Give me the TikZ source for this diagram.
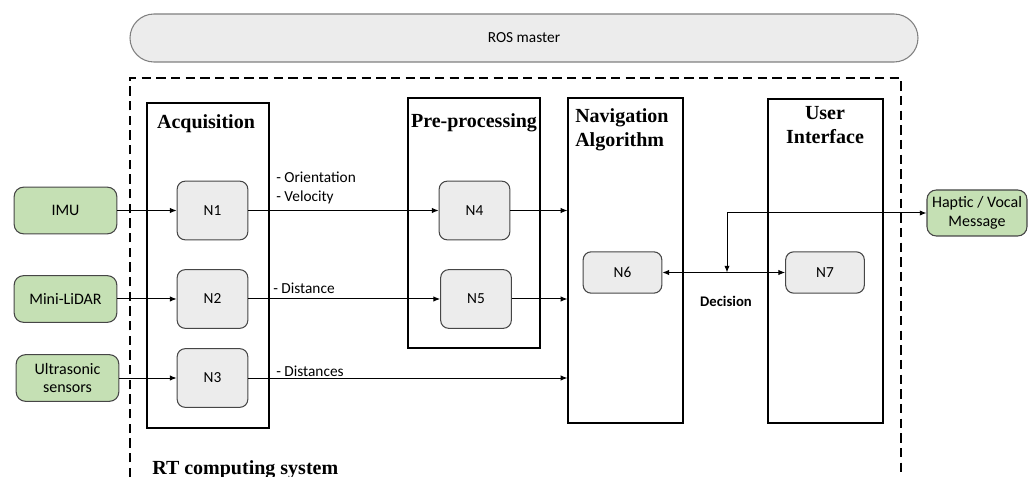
\documentclass[tikz,border=0pt]{standalone}
\usepackage{fontspec}
\setmainfont{Carlito}
\newfontfamily\titlefont{Liberation Serif}
\usetikzlibrary{positioning,arrows.meta,calc}
\definecolor{sensgreen}{RGB}{197,224,180}
\definecolor{nodegray}{RGB}{236,236,236}
\definecolor{edgegray}{RGB}{70,70,70}

\begin{document}
\begin{tikzpicture}[x=0.75pt,y=-0.75pt,
      sensor/.style={draw=edgegray,fill=sensgreen,rounded corners=7pt,line width=0.8pt,
        minimum width=77pt,minimum height=35pt,align=center,inner sep=1pt,
        font=\fontsize{12}{14}\selectfont},
      proc/.style={draw=edgegray,fill=nodegray,rounded corners=6pt,line width=0.8pt,
        minimum width=53pt,minimum height=44pt,font=\fontsize{11.5}{13}\selectfont},
      wproc/.style={proc,minimum width=59pt,minimum height=31pt},
      panel/.style={draw,line width=0.9pt,inner sep=0pt},
      title/.style={inner sep=0pt,font=\titlefont\bfseries\fontsize{15}{18}\selectfont},
      lbl/.style={anchor=west,inner sep=0pt,font=\fontsize{11.5}{13}\selectfont},
      flow/.style={-{Latex[length=5pt,width=4pt]},line width=0.75pt},
      bflow/.style={{Latex[length=5pt,width=4pt]}-{Latex[length=5pt,width=4pt]},line width=0.75pt},
    ]
      \useasboundingbox (0,0) rectangle (1032,477);

      % ROS master and RT system frame
      \node[draw=gray,fill=nodegray,rounded corners=18pt,line width=0.8pt,
        minimum width=591pt,minimum height=36pt,font=\fontsize{11.5}{13}\selectfont]
        (ros) at (524,38) {ROS master};
      \draw[line width=1pt,dash pattern=on 7pt off 4pt]
        (130,477) -- (130,78) -- (901,78) -- (901,477);
      \node[title,anchor=base west] (rt) at (152,474) {RT computing system};

      % Stages
      \node[panel,minimum width=91.5pt,minimum height=243.75pt] (acq) at (208,265.5) {};
      \node[panel,minimum width=99pt,minimum height=187.5pt] (pre) at (474,223) {};
      \node[panel,minimum width=86.25pt,minimum height=243.75pt] (nav) at (625.5,260.5) {};
      \node[panel,minimum width=86.25pt,minimum height=243pt] (ui) at (825.5,261) {};
      \node[title,anchor=base] (tacq) at (206,129) {Acquisition};
      \node[title,anchor=base] (tpre) at (474,128) {Pre-processing};
      \node[title,anchor=north west,align=left] (tnav) at (575,108) {Navigation\\Algorithm};
      \node[title,anchor=north,align=center] (tui) at (825,106) {User\\Interface};

      % Sensors and output
      \node[sensor] (imu) at (65.5,210.5) {IMU};
      \node[sensor] (lidar) at (65.5,299) {Mini-LiDAR};
      \node[sensor] (ultra) at (67.5,378) {Ultrasonic\\sensors};
      \node[sensor,minimum width=75pt,minimum height=34.5pt] (hap) at (977,213) {Haptic / Vocal\\Message};

      % ROS nodes
      \node[proc] (n1) at (212.5,210.5) {N1};
      \node[proc] (n2) at (212.5,299) {N2};
      \node[proc] (n3) at (212.5,378) {N3};
      \node[proc] (n4) at (474.5,210.5) {N4};
      \node[proc] (n5) at (476,299) {N5};
      \node[wproc] (n6) at (622.5,272.5) {N6};
      \node[wproc] (n7) at (825,272.5) {N7};

      % Topics
      \draw[flow] (imu) -- (n1);
      \draw[flow] (lidar) -- (n2);
      \draw[flow] (ultra) -- (n3);
      \draw[flow] (n1) -- (n4);
      \draw[flow] (n2) -- (n5);
      \draw[flow] (n3) -- (n3 -| nav.west);
      \draw[flow] (n4) -- (n4 -| nav.west);
      \draw[flow] (n5) -- (n5 -| nav.west);
      \node[lbl] (lori) at (276,177) {- Orientation};
      \node[lbl] (lvel) at (276,197) {- Velocity};
      \node[lbl] (ldis) at (273,288) {- Distance};
      \node[lbl] (ldss) at (276,371) {- Distances};

      % Decision
      \coordinate (dec) at (727,272.5);
      \draw[bflow] (n6) -- (n7);
      \draw[bflow] (dec) |- (hap);
      \node[font=\bfseries\fontsize{11}{13}\selectfont] (ldec) at (726,301) {Decision};
    \end{tikzpicture}
\end{document}
